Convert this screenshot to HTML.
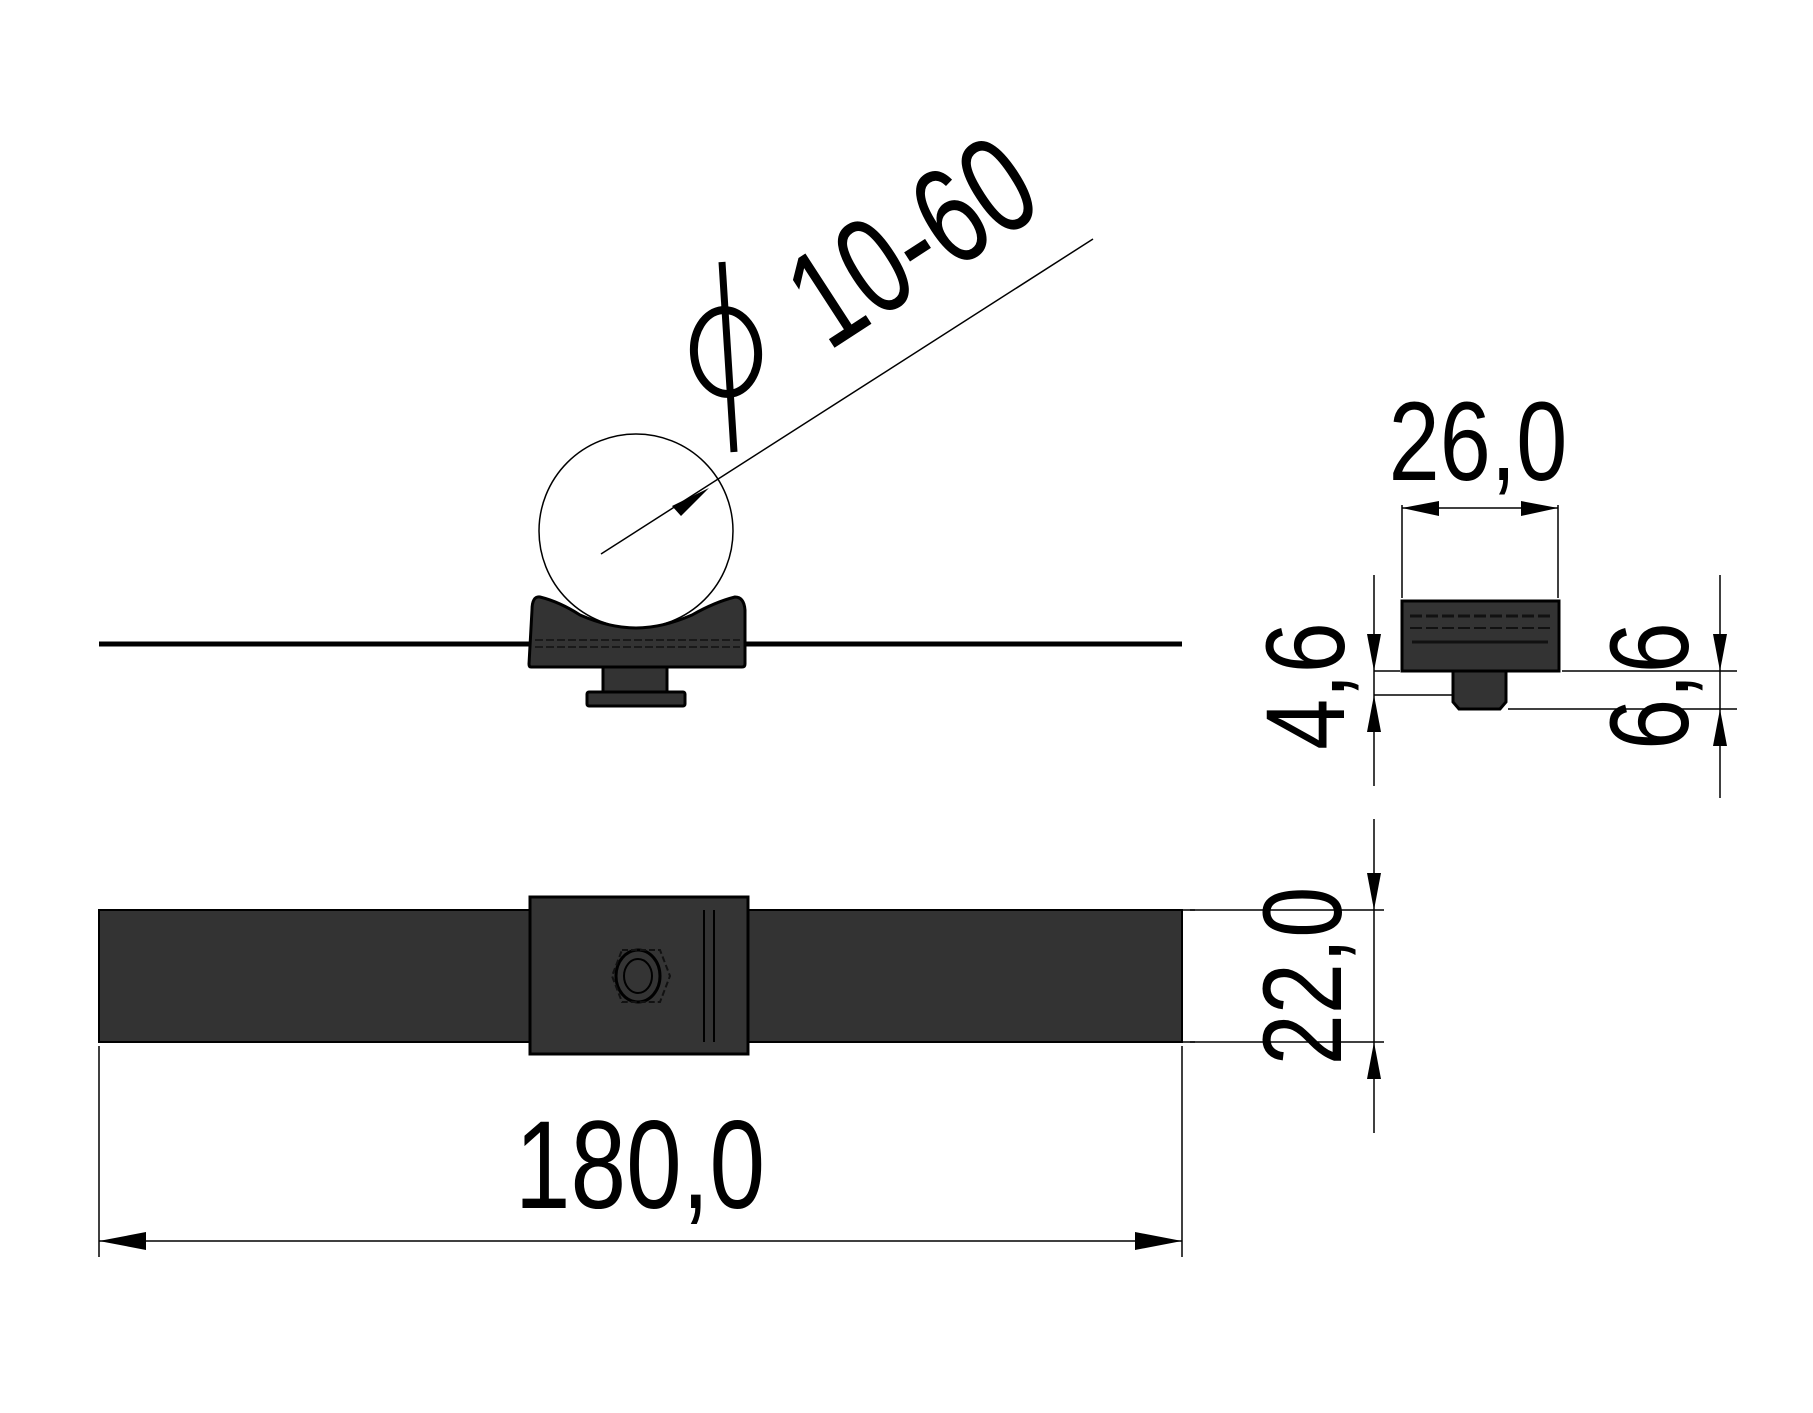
<!DOCTYPE html>
<html><head><meta charset="utf-8"><style>
html,body{margin:0;padding:0;background:#fff;}
svg{display:block;}
text{font-family:"Liberation Sans",sans-serif;fill:#000;}
</style></head><body>
<svg width="1813" height="1413" viewBox="0 0 1813 1413" xmlns="http://www.w3.org/2000/svg">
<!-- Top view -->
<line x1="99" y1="644" x2="1182" y2="644" stroke="#000" stroke-width="5"/>
<circle cx="636" cy="531" r="97" fill="none" stroke="#000" stroke-width="1.5"/>
<path d="M532,610 Q532,596 540,597 Q560,602 580,615 Q610,628 636,628 Q662,628 692,615 Q715,602 735,597 Q744,597 745,610 L745,664 Q745,667 742,667 L531,667 Q529,667 529,664 Z" fill="#333" stroke="#000" stroke-width="3"/>
<line x1="535" y1="640" x2="740" y2="640" stroke="#111" stroke-width="1.5" stroke-dasharray="8,3"/>
<line x1="535" y1="647" x2="740" y2="647" stroke="#111" stroke-width="1.5" stroke-dasharray="8,3"/>
<rect x="603" y="667" width="64" height="25" fill="#333" stroke="#000" stroke-width="3"/>
<rect x="587" y="692" width="98" height="14" rx="2" fill="#333" stroke="#000" stroke-width="3"/>
<line x1="601" y1="554" x2="1093" y2="239" stroke="#000" stroke-width="1.5"/>
<polygon points="709,488 672,506 681,516" fill="#000"/>
<g transform="translate(828,352) rotate(-33)">
<text x="0" y="0" font-size="138" transform="scale(0.74,1)">10-60</text>
</g>
<ellipse cx="726" cy="352" rx="32" ry="42" fill="none" stroke="#000" stroke-width="8" transform="rotate(-5 726 352)"/>
<line x1="722" y1="262" x2="734" y2="452" stroke="#000" stroke-width="7"/>

<!-- Right view -->
<rect x="1402" y="601" width="157" height="70" fill="#333" stroke="#000" stroke-width="3"/>
<line x1="1410" y1="616" x2="1550" y2="616" stroke="#111" stroke-width="3" stroke-dasharray="12,4"/>
<line x1="1410" y1="628" x2="1550" y2="628" stroke="#111" stroke-width="2" stroke-dasharray="12,4"/>
<line x1="1412" y1="642" x2="1548" y2="642" stroke="#111" stroke-width="3"/>
<path d="M1453,671 L1506,671 L1506,702 L1500,709 L1459,709 L1453,702 Z" fill="#333" stroke="#000" stroke-width="3"/>
<line x1="1402" y1="505" x2="1402" y2="598" stroke="#000" stroke-width="1.5"/>
<line x1="1558" y1="505" x2="1558" y2="598" stroke="#000" stroke-width="1.5"/>
<line x1="1402" y1="508" x2="1558" y2="508" stroke="#000" stroke-width="1.5"/>
<polygon points="1402,508 1439,501 1439,516" fill="#000"/>
<polygon points="1558,508 1521,501 1521,516" fill="#000"/>
<text x="1478" y="480" font-size="112" text-anchor="middle" transform="translate(1478 0) scale(0.82,1) translate(-1478 0)">26,0</text>
<!-- 4,6 -->
<line x1="1374" y1="575" x2="1374" y2="786" stroke="#000" stroke-width="1.5"/>
<line x1="1374" y1="671" x2="1400" y2="671" stroke="#000" stroke-width="1.5"/>
<line x1="1374" y1="695" x2="1452" y2="695" stroke="#000" stroke-width="1.5"/>
<polygon points="1374,671 1367,634 1381,634" fill="#000"/>
<polygon points="1374,695 1367,732 1381,732" fill="#000"/>
<text font-size="112" text-anchor="middle" transform="translate(1344 686) rotate(-90) scale(0.82,1)">4,6</text>
<!-- 6,6 -->
<line x1="1720" y1="575" x2="1720" y2="798" stroke="#000" stroke-width="1.5"/>
<line x1="1562" y1="671" x2="1737" y2="671" stroke="#000" stroke-width="1.5"/>
<line x1="1508" y1="709" x2="1737" y2="709" stroke="#000" stroke-width="1.5"/>
<polygon points="1720,671 1713,634 1727,634" fill="#000"/>
<polygon points="1720,709 1713,746 1727,746" fill="#000"/>
<text font-size="112" text-anchor="middle" transform="translate(1688 686) rotate(-90) scale(0.82,1)">6,6</text>

<!-- Bottom view -->
<rect x="99" y="910" width="1083" height="132" fill="#333" stroke="#000" stroke-width="2"/>
<rect x="530" y="897" width="218" height="157" fill="#343434" stroke="#000" stroke-width="3"/>
<line x1="704" y1="910" x2="704" y2="1042" stroke="#000" stroke-width="2"/>
<line x1="714" y1="910" x2="714" y2="1042" stroke="#000" stroke-width="2"/>
<ellipse cx="638" cy="976" rx="22" ry="26" fill="none" stroke="#000" stroke-width="3"/>
<ellipse cx="638" cy="976" rx="14" ry="17" fill="none" stroke="#000" stroke-width="2"/>
<path d="M622,950 L660,950 L670,976 L660,1002 L622,1002 L612,976 Z" fill="none" stroke="#111" stroke-width="2" stroke-dasharray="6,3"/>
<line x1="1018" y1="910" x2="1195" y2="910" stroke="#000" stroke-width="1.5"/>
<line x1="1018" y1="1042" x2="1195" y2="1042" stroke="#000" stroke-width="1.5"/>
<line x1="1374" y1="819" x2="1374" y2="1133" stroke="#000" stroke-width="1.5"/>
<line x1="1190" y1="910" x2="1384" y2="910" stroke="#000" stroke-width="1.5"/>
<line x1="1190" y1="1042" x2="1384" y2="1042" stroke="#000" stroke-width="1.5"/>
<polygon points="1374,910 1367,873 1381,873" fill="#000"/>
<polygon points="1374,1042 1367,1079 1381,1079" fill="#000"/>
<text font-size="112" text-anchor="middle" transform="translate(1341 976) rotate(-90) scale(0.82,1)">22,0</text>
<!-- 180,0 -->
<line x1="99" y1="1046" x2="99" y2="1257" stroke="#000" stroke-width="1.5"/>
<line x1="1182" y1="1046" x2="1182" y2="1257" stroke="#000" stroke-width="1.5"/>
<line x1="99" y1="1241" x2="1182" y2="1241" stroke="#000" stroke-width="1.5"/>
<polygon points="99,1241 146,1232 146,1250" fill="#000"/>
<polygon points="1182,1241 1135,1232 1135,1250" fill="#000"/>
<text font-size="125" text-anchor="middle" transform="translate(640 1208) scale(0.8,1)">180,0</text>
</svg>
</body></html>
